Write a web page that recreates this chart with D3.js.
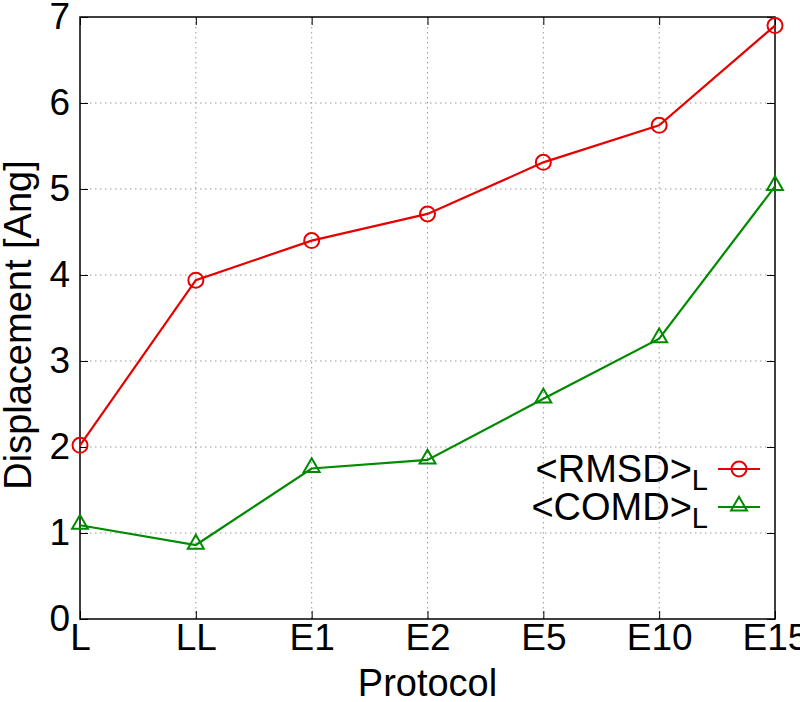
<!DOCTYPE html>
<html>
<head>
<meta charset="utf-8">
<script src="https://cdn.jsdelivr.net/npm/d3@7"></script>
<style>
  body { margin: 0; background: #fff; }
  text { font-family: "Liberation Sans", Arial, sans-serif; fill: #000; }
</style>
</head>
<body>
<svg width="800" height="702"></svg>
<script>
var protocols = ["L", "LL", "E1", "E2", "E5", "E10", "E15"];
var rmsd = [2.02, 3.94, 4.40, 4.71, 5.31, 5.74, 6.90];
var comd = [1.09, 0.86, 1.75, 1.85, 2.56, 3.26, 5.03];
var yTicks = [0, 1, 2, 3, 4, 5, 6, 7];

var svg = d3.select("svg"),
    width = +svg.attr("width"),
    height = +svg.attr("height");

var margin = {top: 17, right: 25, bottom: 83, left: 80};
var plotL = margin.left, plotR = width - margin.right,
    plotT = margin.top, plotB = height - margin.bottom;

var x = d3.scalePoint()
    .domain(protocols)
    .range([plotL, plotR]);

var y = d3.scaleLinear()
    .domain([0, 7])
    .range([plotB, plotT]);

var red = "#e60000", green = "#008a00";

// grid
var grid = svg.append("g").attr("class", "grid")
    .attr("stroke", "#999").attr("stroke-width", 1)
    .attr("stroke-dasharray", "1.5,3.5");

grid.selectAll(".gy")
  .data(yTicks.slice(1, -1))
  .enter().append("line")
    .attr("x1", plotL).attr("x2", plotR)
    .attr("y1", function(d) { return y(d); })
    .attr("y2", function(d) { return y(d); });

grid.selectAll(".gx")
  .data(protocols.slice(1, -1))
  .enter().append("line")
    .attr("x1", function(d) { return x(d); })
    .attr("x2", function(d) { return x(d); })
    .attr("y1", plotT).attr("y2", plotB);

// axes (inner ticks, mirrored)
var fontSize = 37;

svg.append("g")
    .attr("transform", "translate(" + plotL + ",0)")
    .call(d3.axisLeft(y).tickValues(yTicks).tickFormat(d3.format("d"))
      .tickSize(-8).tickPadding(10))
    .call(function(g) {
      g.select(".domain").remove();
      g.selectAll("text").attr("font-size", fontSize).attr("font-family", null);
      g.selectAll("line").attr("stroke", "#000");
    });

svg.append("g")
    .attr("transform", "translate(" + plotR + ",0)")
    .call(d3.axisRight(y).tickValues(yTicks).tickSize(-8).tickFormat(""))
    .call(function(g) { g.select(".domain").remove(); });

svg.append("g")
    .attr("transform", "translate(0," + plotB + ")")
    .call(d3.axisBottom(x).tickSize(-8).tickPadding(4))
    .call(function(g) {
      g.select(".domain").remove();
      g.selectAll("text").attr("font-size", fontSize).attr("font-family", null)
        .attr("dy", "0.72em");
    });

svg.append("g")
    .attr("transform", "translate(0," + plotT + ")")
    .call(d3.axisTop(x).tickSize(-8).tickFormat(""))
    .call(function(g) { g.select(".domain").remove(); });

// border
svg.append("rect")
    .attr("x", plotL).attr("y", plotT)
    .attr("width", plotR - plotL).attr("height", plotB - plotT)
    .attr("fill", "none").attr("stroke", "#000").attr("stroke-width", 1.5);

// axis titles
svg.append("text")
    .attr("x", (plotL + plotR) / 2)
    .attr("y", 696)
    .attr("text-anchor", "middle")
    .attr("font-size", 38)
    .text("Protocol");

svg.append("text")
    .attr("transform", "translate(31," + 325 + ") rotate(-90)")
    .attr("text-anchor", "middle")
    .attr("font-size", 38)
    .text("Displacement [Ang]");

// series
var line = d3.line()
    .x(function(d) { return x(d.p); })
    .y(function(d) { return y(d.v); });

function pts(vals) {
  return protocols.map(function(p, i) { return {p: p, v: vals[i]}; });
}

var tri = d3.symbol().type(d3.symbolTriangle).size(110);

function drawSeries(vals, color, marker) {
  svg.append("path")
      .datum(pts(vals))
      .attr("fill", "none")
      .attr("stroke", color)
      .attr("stroke-width", 2.2)
      .attr("d", line);

  var m = svg.append("g").selectAll(".pt")
    .data(pts(vals))
    .enter();
  if (marker == "circle") {
    m.append("circle")
      .attr("cx", function(d) { return x(d.p); })
      .attr("cy", function(d) { return y(d.v); })
      .attr("r", 7.5)
      .attr("fill", "none").attr("stroke", color).attr("stroke-width", 2);
  } else {
    m.append("path")
      .attr("transform", function(d) { return "translate(" + x(d.p) + "," + (y(d.v) - 1) + ")"; })
      .attr("d", tri)
      .attr("fill", "none").attr("stroke", color).attr("stroke-width", 2);
  }
}

drawSeries(rmsd, red, "circle");
drawSeries(comd, green, "triangle");

// legend
var legendItems = [
  {name: "<RMSD>", color: red, marker: "circle", y: 469},
  {name: "<COMD>", color: green, marker: "triangle", y: 507}
];

var legend = svg.append("g").attr("class", "legend")
  .selectAll("g")
  .data(legendItems)
  .enter().append("g")
  .attr("transform", function(d) { return "translate(0," + d.y + ")"; });

legend.append("line")
    .attr("x1", 718).attr("x2", 760)
    .attr("stroke", function(d) { return d.color; })
    .attr("stroke-width", 2.2);

legend.filter(function(d) { return d.marker == "circle"; })
  .append("circle")
    .attr("cx", 739).attr("r", 7.5)
    .attr("fill", "none").attr("stroke", red).attr("stroke-width", 2);

legend.filter(function(d) { return d.marker == "triangle"; })
  .append("path")
    .attr("transform", "translate(739,-1)")
    .attr("d", tri)
    .attr("fill", "none").attr("stroke", green).attr("stroke-width", 2);

var lt = legend.append("text")
    .attr("x", 708)
    .attr("y", 13)
    .attr("text-anchor", "end")
    .attr("font-size", 38);
lt.append("tspan").text(function(d) { return d.name; });
lt.append("tspan").attr("dy", 8).attr("font-size", 29).text("L");
</script>
</body>
</html>
